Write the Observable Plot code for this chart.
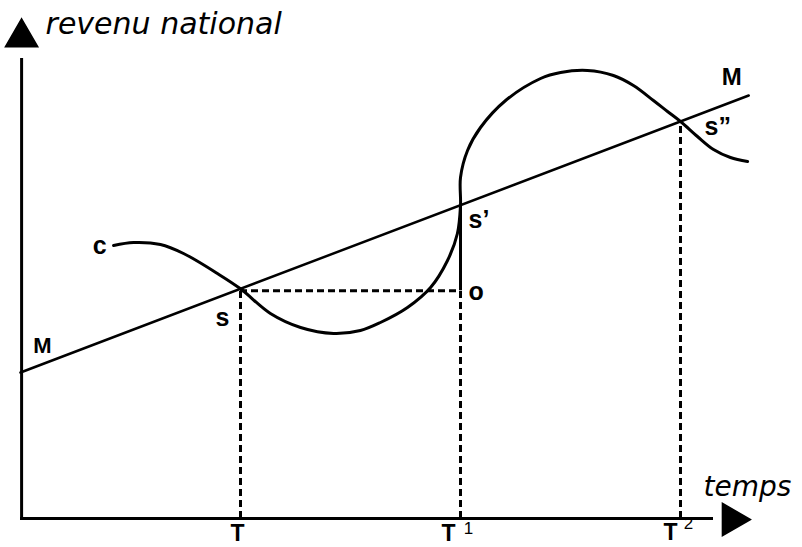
<!DOCTYPE html>
<html>
<head>
<meta charset="utf-8">
<script src="https://cdn.jsdelivr.net/npm/d3@7"></script>
<script src="https://cdn.jsdelivr.net/npm/@observablehq/plot@0.6"></script>
<style>
  html, body { margin: 0; padding: 0; background: #fff; }
</style>
</head>
<body>
<div id="chart"></div>
<script>
// ---- data (time t, revenu national r, arbitrary units) ----
const keyTimes = [10, 20, 30];              // T, T1, T2
const tickNames = ["T", "T", "T"];
const tickSups = ["", "1", "2"];
// trend line M–M
const trendT = [0, 33.1];
const trendR = [14.6, 42.3];
// cycle curve C
const cycleT = [4.23, 5.14, 6.36, 7.41, 8.95, 10, 11.36, 12.73, 14.23, 15.45, 16.36, 17.59, 18.64, 19.41, 19.86, 20, 20, 20.32, 20.91, 22.05, 23.64, 24.55, 25.77, 26.95, 27.86, 28.77, 29.41, 30, 30.77, 31.5, 32.27, 33.05];
const cycleR = [27.3, 27.6, 27.4, 26.5, 24.5, 22.97, 20.5, 19.1, 18.5, 18.8, 19.6, 21.1, 23.1, 25.8, 28.5, 31.34, 34.1, 36.8, 39.1, 41.8, 44.0, 44.6, 44.8, 44.3, 43.3, 41.8, 40.7, 39.7, 38.2, 36.9, 36.1, 35.7];

const trend = trendT.map((t, i) => ({t, r: trendR[i]}));
const cycle = cycleT.map((t, i) => ({t, r: cycleR[i]}));
const slope = (trendR[1] - trendR[0]) / (trendT[1] - trendT[0]);
const onM = t => trendR[0] + slope * t;
const [S, S1, S2] = keyTimes.map(t => ({t, r: onM(t)}));
const O = {t: S1.t, r: S.r - 0.2};

const ink = "#000";
const bold = {fontFamily: "Liberation Sans, Arial, sans-serif", fontWeight: "bold", fill: ink};
const hand = {fontFamily: "DejaVu Sans, sans-serif", fontStyle: "italic", fill: ink};
const dash = {stroke: ink, strokeWidth: 3, strokeDasharray: "7,4"};

const chart = Plot.plot({
  width: 802,
  height: 547,
  margin: 0,
  x: {domain: [0, 35.5], range: [20, 801], axis: null},
  y: {domain: [0, 51.8], range: [518, 0], axis: null},
  marks: [
    // axes
    Plot.ruleX([0.05], {y1: -0.1, y2: 46, stroke: ink, strokeWidth: 3}),
    Plot.ruleY([0], {x1: 0, x2: 31.5, stroke: ink, strokeWidth: 3}),
    Plot.dot([{t: 0.05, r: 48.1}], {x: "t", y: "r", symbol: "triangle", r: 12, fill: ink, stroke: ink}),
    Plot.dot([{t: 32.33, r: -0.1}], {x: "t", y: "r", symbol: "triangle", r: 12, fill: ink, stroke: ink, rotate: 90}),
    // dashed guides
    Plot.ruleX([S], {x: "t", y1: 0, y2: "r", ...dash}),
    Plot.ruleX([O], {x: "t", y1: 0, y2: "r", ...dash}),
    Plot.ruleX([S2], {x: "t", y1: 0, y2: "r", ...dash}),
    Plot.ruleY([O], {y: "r", x1: S.t, x2: "t", ...dash}),
    // solid S'–O
    Plot.ruleX([S1], {x: "t", y1: O.r, y2: "r", stroke: ink, strokeWidth: 3}),
    // trend line
    Plot.line(trend, {x: "t", y: "r", stroke: ink, strokeWidth: 2.5}),
    // cycle curve
    Plot.line(cycle, {x: "t", y: "r", curve: "catmull-rom", stroke: ink, strokeWidth: 3}),
    // axis titles
    Plot.text(["revenu national"], {x: 1.14, y: 48.5, text: d => d, textAnchor: "start", lineAnchor: "bottom", fontSize: 30, ...hand}),
    Plot.text(["temps"], {x: 31.05, y: 2.3, text: d => d, textAnchor: "start", lineAnchor: "bottom", fontSize: 28, ...hand}),
    // labels
    Plot.text([cycle[0]], {x: "t", y: "r", text: () => "c", dx: -7, textAnchor: "end", lineAnchor: "middle", fontSize: 25, ...bold}),
    Plot.text([trend[0]], {x: "t", y: "r", text: () => "M", dx: 22, dy: -27, lineAnchor: "middle", fontSize: 22, ...bold}),
    Plot.text([trend[1]], {x: "t", y: "r", text: () => "M", dx: -17, dy: -18, lineAnchor: "middle", fontSize: 24, ...bold}),
    Plot.text([S], {x: "t", y: "r", text: () => "s", dx: -18, dy: 29, lineAnchor: "middle", fontSize: 25, ...bold}),
    Plot.text([S1], {x: "t", y: "r", text: () => "s\u2019", dx: 8, dy: 15, textAnchor: "start", lineAnchor: "middle", fontSize: 25, ...bold}),
    Plot.text([O], {x: "t", y: "r", text: () => "o", dx: 8, dy: 1, textAnchor: "start", lineAnchor: "middle", fontSize: 25, ...bold}),
    Plot.text([S2], {x: "t", y: "r", text: () => "s\u201D", dx: 24, dy: 6, textAnchor: "start", lineAnchor: "middle", fontSize: 25, ...bold}),
    // time ticks
    Plot.text([0], {x: keyTimes[0], y: 0, text: () => tickNames[0], dx: -3, dy: 15, lineAnchor: "middle", fontSize: 23, ...bold}),
    Plot.text([0], {x: keyTimes[1], y: 0, text: () => tickNames[1], dx: -12, dy: 15, lineAnchor: "middle", fontSize: 23, ...bold}),
    Plot.text([0], {x: keyTimes[2], y: 0, text: () => tickNames[2], dx: -10, dy: 14, lineAnchor: "middle", fontSize: 23, ...bold}),
    Plot.text([0], {x: keyTimes[1], y: 0, text: () => tickSups[1], dx: 8, dy: 10, lineAnchor: "middle", fontSize: 17, fontFamily: "Liberation Sans, Arial, sans-serif", fill: ink}),
    Plot.text([0], {x: keyTimes[2], y: 0, text: () => tickSups[2], dx: 8, dy: 5, lineAnchor: "middle", fontSize: 17, fontFamily: "Liberation Sans, Arial, sans-serif", fill: ink})
  ]
});
document.getElementById("chart").appendChild(chart);
</script>
</body>
</html>
